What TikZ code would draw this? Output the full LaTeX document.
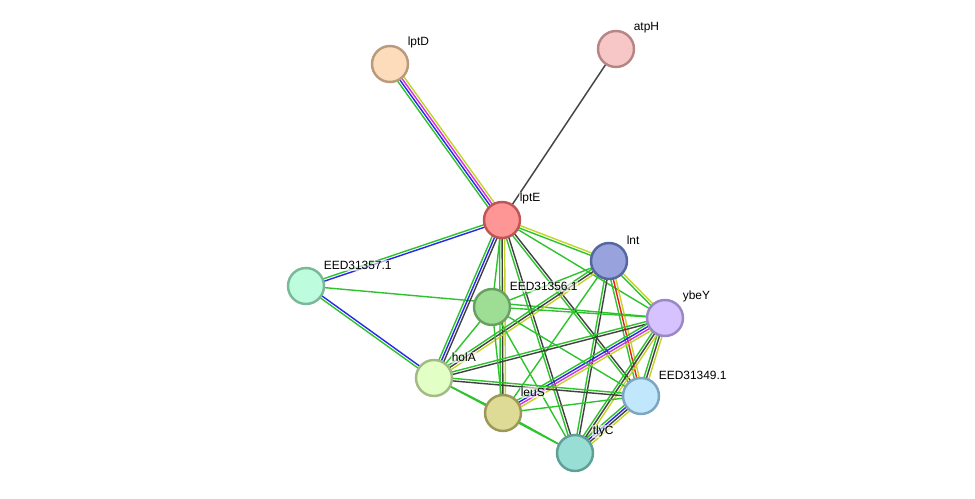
\documentclass[tikz,border=0pt]{standalone}
\usepackage{fontspec}
\setmainfont{Liberation Sans}
\usetikzlibrary{calc}
\usetikzlibrary{backgrounds}

% node colours (fill / border)
\definecolor{flptD}{HTML}{FDDCBC}\definecolor{blptD}{HTML}{B89A7C}
\definecolor{fatpH}{HTML}{F7C7C7}\definecolor{batpH}{HTML}{B88585}
\definecolor{flptE}{HTML}{FF9696}\definecolor{blptE}{HTML}{C05555}
\definecolor{flnt}{HTML}{98A3DD}\definecolor{blnt}{HTML}{5566A0}
\definecolor{feed57}{HTML}{BDFCDC}\definecolor{beed57}{HTML}{7AB89A}
\definecolor{feed56}{HTML}{9EDE94}\definecolor{beed56}{HTML}{68A060}
\definecolor{fybeY}{HTML}{D6C2FF}\definecolor{bybeY}{HTML}{9A88C4}
\definecolor{fholA}{HTML}{E2FFC6}\definecolor{bholA}{HTML}{A2BB85}
\definecolor{fleuS}{HTML}{DDDB95}\definecolor{bleuS}{HTML}{9B9858}
\definecolor{feed49}{HTML}{C1E7FD}\definecolor{beed49}{HTML}{7DA5C0}
\definecolor{ftlyC}{HTML}{98DED5}\definecolor{btlyC}{HTML}{5E9F98}
% evidence colours
\definecolor{grn}{RGB}{45,195,45}
\definecolor{blu}{RGB}{40,40,230}
\definecolor{mag}{RGB}{215,50,215}
\definecolor{yel}{RGB}{195,212,40}
\definecolor{blk}{RGB}{65,65,65}
\definecolor{red}{RGB}{240,25,25}

\tikzset{
  prot/.style={circle, minimum size=0.72cm, inner sep=0pt, line width=1.4pt},
  lbl/.style={font=\fontsize{6.8}{8}\selectfont, fill=white, fill opacity=0.6, text opacity=1, inner sep=0.5pt, xshift=0.06cm, yshift=0.03cm},
  link/.style={line width=0.8pt}
}

% from, to, number of lines, colours
\newcommand{\strlink}[4]{%
  \foreach \c [count=\i] in {#4} {
    \pgfmathsetmacro{\off}{(\i-(#3+1)/2)*1.45}
    \draw[link, \c] ($(#1)!\off pt!90:(#2)$) -- ($(#2)!\off pt!-90:(#1)$);
  }
}

\begin{document}
\begin{tikzpicture}[x=0.02cm, y=-0.02cm]
\useasboundingbox (0,0) rectangle (975,499);

\foreach \n/\t/\x/\y in {lptD/lptD/390/64, atpH/atpH/616/49, lptE/lptE/502/220, lnt/lnt/609/261, eed57/EED31357.1/306/286, eed56/EED31356.1/492/307, ybeY/ybeY/665/318, holA/holA/434/378, leuS/leuS/503/413, eed49/EED31349.1/641/396, tlyC/tlyC/575/453}
    \node[prot, fill=f\n, draw=b\n, label={[lbl]45:\t}] (\n) at (\x,\y) {};

\begin{pgfonlayer}{background}
\strlink{eed57}{ybeY}{1}{grn}
\strlink{lptD}{lptE}{4}{grn,blu,mag,yel}
\strlink{atpH}{lptE}{1}{blk}
\strlink{lptE}{eed57}{2}{grn,blu}
\strlink{lptE}{holA}{3}{grn,blu,blk}
\strlink{lptE}{eed56}{1}{grn}
\strlink{lptE}{leuS}{3}{grn,blk,yel}
\strlink{lptE}{tlyC}{2}{grn,blk}
\strlink{lptE}{eed49}{2}{grn,blk}
\strlink{lptE}{ybeY}{1}{grn}
\strlink{lptE}{lnt}{2}{grn,yel}
\strlink{lnt}{eed56}{1}{grn}
\strlink{lnt}{holA}{3}{grn,blk,yel}
\strlink{lnt}{ybeY}{2}{grn,yel}
\strlink{lnt}{eed49}{3}{grn,red,yel}
\strlink{lnt}{tlyC}{2}{grn,blk}
\strlink{lnt}{leuS}{1}{grn}
\strlink{ybeY}{eed56}{1}{grn}
\strlink{ybeY}{holA}{2}{grn,blk}
\strlink{ybeY}{leuS}{4}{grn,blu,mag,yel}
\strlink{ybeY}{eed49}{3}{grn,blk,yel}
\strlink{ybeY}{tlyC}{3}{grn,blk,yel}
\strlink{eed49}{tlyC}{4}{grn,blu,blk,yel}
\strlink{eed49}{holA}{2}{grn,blk}
\strlink{eed49}{leuS}{1}{grn}
\strlink{eed49}{eed56}{1}{grn}
\strlink{tlyC}{eed56}{1}{grn}
\strlink{tlyC}{holA}{1}{grn}
\strlink{tlyC}{leuS}{1}{grn}
\strlink{eed56}{leuS}{1}{grn}
\strlink{eed56}{holA}{1}{grn}
\strlink{eed57}{holA}{2}{grn,blu}
\strlink{holA}{leuS}{1}{grn}
\end{pgfonlayer}
\end{tikzpicture}
\end{document}
